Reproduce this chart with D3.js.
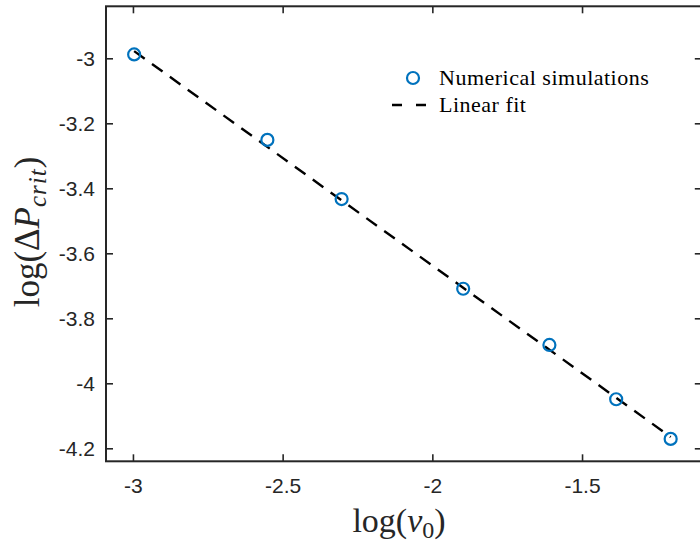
<!DOCTYPE html>
<html>
<head>
<meta charset="utf-8">
<script src="https://cdn.jsdelivr.net/npm/d3@7"></script>
<style>
  html, body { margin: 0; padding: 0; background: #fff; }
  svg { display: block; }
</style>
</head>
<body>
<svg id="chart" width="700" height="547"></svg>
<script>
// Simulated critical pressure jump vs. initial velocity (natural log)
const logV0 = [-2.996, -2.551, -2.303, -1.897, -1.609, -1.386, -1.204];
const logDP = [-2.988, -3.251, -3.433, -3.709, -3.882, -4.049, -4.171];

// Linear fit endpoints
const fitX = [-2.996, -1.204];
const fitY = [-2.978, -4.165];

const xTicks = [-3, -2.5, -2, -1.5];
const yTicks = [-3, -3.2, -3.4, -3.6, -3.8, -4, -4.2];

const axisColor = "#262626";
const simColor = "#0072BD";

const svg = d3.select("#chart");

const x = d3.scaleLinear().domain([-3.09, -1.1]).range([106, 701.8]);
const y = d3.scaleLinear().domain([-4.24, -2.84]).range([461.3, 6.3]);

const [x0, x1] = x.range();
const [y0, y1] = y.range();

const tickLen = 7;
const tickFont = "'Liberation Sans', Arial, Helvetica, sans-serif";
const mathFont = "'Liberation Serif', 'Times New Roman', serif";
const fmt = d => d3.format("")(d).replace("−", "-");

// Bottom axis with ticks pointing inward
const gx = svg.append("g").attr("transform", `translate(0,${y0})`)
  .call(d3.axisBottom(x).tickValues(xTicks).tickSize(-tickLen).tickPadding(17).tickFormat(fmt));
// Top axis (mirror ticks)
const gxt = svg.append("g").attr("transform", `translate(0,${y1})`)
  .call(d3.axisTop(x).tickValues(xTicks).tickSize(-tickLen).tickFormat(""));
// Left axis
const gy = svg.append("g").attr("transform", `translate(${x0},0)`)
  .call(d3.axisLeft(y).tickValues(yTicks).tickSize(-tickLen).tickPadding(11).tickFormat(fmt));
// Right axis (mirror ticks)
const gyr = svg.append("g").attr("transform", `translate(${x1},0)`)
  .call(d3.axisRight(y).tickValues(yTicks).tickSize(-tickLen).tickFormat(""));

[gx, gxt, gy, gyr].forEach(g => {
  g.select(".domain").remove();
  g.selectAll(".tick line").attr("stroke", axisColor).attr("stroke-width", 1.6);
  g.selectAll(".tick text")
    .attr("fill", axisColor)
    .style("font-family", tickFont)
    .style("font-size", "21px");
});

// Box
svg.append("rect")
  .attr("x", x0).attr("y", y1)
  .attr("width", x1 - x0).attr("height", y0 - y1)
  .attr("fill", "none").attr("stroke", axisColor).attr("stroke-width", 2);

// Fit line
svg.append("path")
  .datum(fitX.map((d, i) => [d, fitY[i]]))
  .attr("d", d3.line().x(d => x(d[0])).y(d => y(d[1])))
  .attr("fill", "none")
  .attr("stroke", "#000")
  .attr("stroke-width", 2.4)
  .attr("stroke-dasharray", "13,9");

// Simulation markers
svg.append("g").selectAll("circle")
  .data(logV0.map((d, i) => [d, logDP[i]]))
  .join("circle")
  .attr("cx", d => x(d[0]))
  .attr("cy", d => y(d[1]))
  .attr("r", 6)
  .attr("fill", "none")
  .attr("stroke", simColor)
  .attr("stroke-width", 2.2);

// Legend
const leg = svg.append("g");
leg.append("circle").attr("cx", 413).attr("cy", 78).attr("r", 6)
  .attr("fill", "none").attr("stroke", simColor).attr("stroke-width", 2.2);
leg.append("line").attr("x1", 392).attr("x2", 426).attr("y1", 105).attr("y2", 105)
  .attr("stroke", "#000").attr("stroke-width", 2.4).attr("stroke-dasharray", "10,14");
leg.append("text").attr("x", 439).attr("y", 85)
  .style("font-family", mathFont).style("font-size", "22px")
  .style("letter-spacing", "0.5px").attr("fill", "#000")
  .text("Numerical simulations");
leg.append("text").attr("x", 439).attr("y", 112)
  .style("font-family", mathFont).style("font-size", "22px")
  .style("letter-spacing", "0.5px").attr("fill", "#000")
  .text("Linear fit");

// X axis label: log(v0)
const xl = svg.append("text")
  .attr("x", 399).attr("y", 532)
  .attr("text-anchor", "middle")
  .style("font-family", mathFont).style("font-size", "34px").attr("fill", "#262626");
xl.append("tspan").text("log(");
xl.append("tspan").style("font-style", "italic").text("v");
xl.append("tspan").attr("dy", 6).style("font-size", "24px").text("0");
xl.append("tspan").attr("dy", -6).text(")");

// Y axis label: log(ΔP_crit)
const yl = svg.append("text")
  .attr("transform", "translate(39,232) rotate(-90)")
  .attr("text-anchor", "middle")
  .style("font-family", mathFont).style("font-size", "35px").attr("fill", "#262626");
yl.append("tspan").text("log(Δ");
yl.append("tspan").style("font-style", "italic").text("P");
yl.append("tspan").attr("dy", 7).style("font-size", "25px").style("font-style", "italic")
  .style("letter-spacing", "1px").text("crit");
yl.append("tspan").attr("dy", -7).text(")");
</script>
</body>
</html>
